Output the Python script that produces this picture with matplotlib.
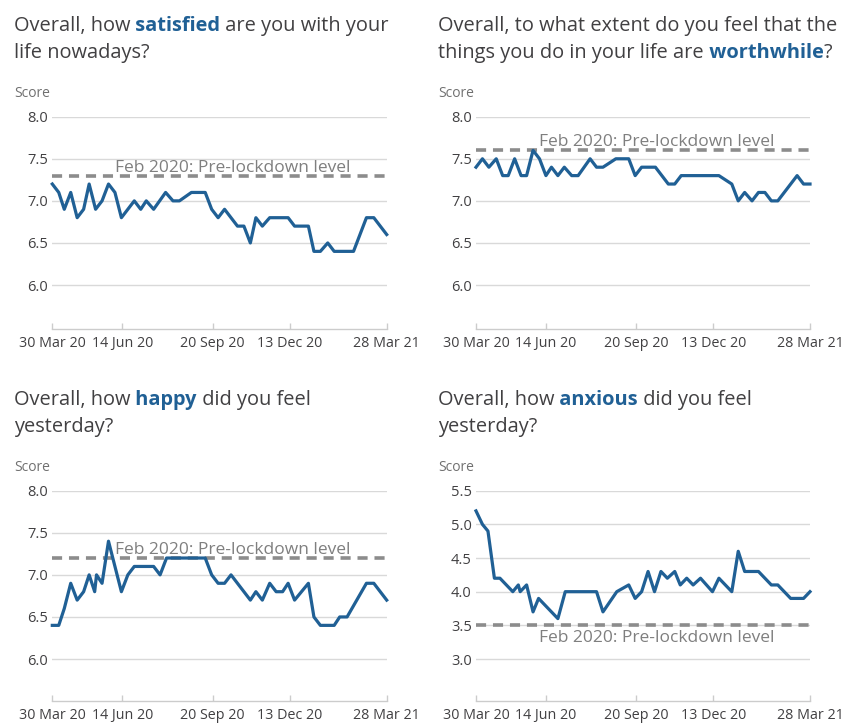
import matplotlib
matplotlib.use('Agg')
import matplotlib.pyplot as plt
import matplotlib.transforms as mtransforms
import pandas as pd

plt.rcParams['font.family'] = ['Open Sans', 'DejaVu Sans']

BLUE = '#206095'
TEXT = '#414042'
GREY = '#8c8c8c'
W, H = 845, 723

start = pd.Timestamp('2020-03-30')

# days after 30 Mar 2020 (end of survey period) and mean score
sat_days = [0, 7, 13, 20, 27, 34, 40, 47, 54, 61, 68, 75, 82, 89, 96, 102, 110, 123, 131, 138,
            151, 166, 173, 180, 187, 201, 208, 215, 221, 228, 236, 256, 263, 278, 284, 291, 299, 306, 327, 341,
            349, 363]
sat_vals = [7.2, 7.1, 6.9, 7.1, 6.8, 6.9, 7.2, 6.9, 7.0, 7.2, 7.1, 6.8, 6.9, 7.0, 6.9, 7.0, 6.9, 7.1, 7.0, 7.0,
            7.1, 7.1, 6.9, 6.8, 6.9, 6.7, 6.7, 6.5, 6.8, 6.7, 6.8, 6.8, 6.7, 6.7, 6.4, 6.4, 6.5, 6.4, 6.4, 6.8,
            6.8, 6.6]

worth_days = [0, 7, 14, 22, 29, 35, 42, 49, 55, 62, 69, 76, 82, 89, 96, 104, 111, 124, 131, 138,
              152, 166, 173, 180, 195, 209, 216, 223, 264, 278, 285, 292, 300, 307, 314, 321, 328, 349, 356, 363]
worth_vals = [7.4, 7.5, 7.4, 7.5, 7.3, 7.3, 7.5, 7.3, 7.3, 7.6, 7.5, 7.3, 7.4, 7.3, 7.4, 7.3, 7.3, 7.5, 7.4, 7.4,
              7.5, 7.5, 7.3, 7.4, 7.4, 7.2, 7.2, 7.3, 7.3, 7.2, 7.0, 7.1, 7.0, 7.1, 7.1, 7.0, 7.0, 7.3, 7.2, 7.2]

happy_days = [0, 7, 13, 20, 27, 34, 40, 46, 48, 54, 61, 75, 82, 89, 110, 117, 124, 166, 173, 180,
              187, 194, 215, 221, 228, 236, 243, 250, 256, 263, 278, 284, 291, 306, 312, 320, 341, 349, 363]
happy_vals = [6.4, 6.4, 6.6, 6.9, 6.7, 6.8, 7.0, 6.8, 7.0, 6.9, 7.4, 6.8, 7.0, 7.1, 7.1, 7.0, 7.2, 7.2, 7.0, 6.9,
              6.9, 7.0, 6.7, 6.8, 6.7, 6.9, 6.8, 6.8, 6.9, 6.7, 6.9, 6.5, 6.4, 6.4, 6.5, 6.5, 6.9, 6.9, 6.7]

anx_days = [0, 7, 13, 20, 26, 40, 46, 48, 55, 62, 68, 89, 97, 131, 138, 153, 166, 173, 180, 187,
            194, 201, 208, 216, 222, 229, 236, 244, 257, 264, 278, 285, 292, 307, 321, 328, 342, 356, 363]
anx_vals = [5.2, 5.0, 4.9, 4.2, 4.2, 4.0, 4.1, 4.0, 4.1, 3.7, 3.9, 3.6, 4.0, 4.0, 3.7, 4.0, 4.1, 3.9, 4.0, 4.3,
            4.0, 4.3, 4.2, 4.3, 4.1, 4.2, 4.1, 4.2, 4.0, 4.2, 4.0, 4.6, 4.3, 4.3, 4.1, 4.1, 3.9, 3.9, 4.0]

pre_lockdown = [7.3, 7.6, 7.2, 3.5]
pre_label = 'Feb 2020: Pre-lockdown level'

tick_dates = ['2020-03-30', '2020-06-14', '2020-09-20', '2020-12-13', '2021-03-28']
tick_labels = ['30 Mar 20', '14 Jun 20', '20 Sep 20', '13 Dec 20', '28 Mar 21']

titles = [
    [[('Overall, how', False), (' satisfied', True), (' are you with your', False)],
     [('life nowadays?', False)]],
    [[('Overall, to what extent do you feel that the', False)],
     [('things you do in your life are', False), (' worthwhile', True), ('?', False)]],
    [[('Overall, how', False), (' happy', True), (' did you feel', False)],
     [('yesterday?', False)]],
    [[('Overall, how', False), (' anxious', True), (' did you feel', False)],
     [('yesterday?', False)]],
]

series = [(sat_days, sat_vals), (worth_days, worth_vals), (happy_days, happy_vals), (anx_days, anx_vals)]
yticks = [[6.0, 6.5, 7.0, 7.5, 8.0]] * 3 + [[3.0, 3.5, 4.0, 4.5, 5.0, 5.5]]
ylims = [(5.474, 8.0)] * 3 + [(2.342, 5.5)]
label_below = [False, False, False, True]

# panel geometry in pixels: left, top (top gridline), width, height, title x, title baseline y
panels = [(52.3, 116.7, 334.4, 212.6, 14, 31),
          (476.0, 116.7, 334.0, 212.6, 438, 31),
          (52.3, 490.7, 334.4, 210.6, 14, 405),
          (476.0, 490.7, 334.0, 210.6, 438, 405)]

fig = plt.figure(figsize=(W / 100, H / 100), dpi=100)

for i in range(4):
    l, t, w, h, tx, ty = panels[i]
    ax = fig.add_axes([l / W, 1 - (t + h) / H, w / W, h / H])
    days, vals = series[i]
    dates = [start + pd.Timedelta(days=d) for d in days]
    ax.plot(dates, vals, color=BLUE, lw=2.3, solid_joinstyle='round', zorder=3, clip_on=False)
    ax.axhline(pre_lockdown[i], color=GREY, lw=2.6, linestyle=(0, (2.8, 1.9)), zorder=2)
    trans = mtransforms.blended_transform_factory(ax.transAxes, ax.transData)
    if label_below[i]:
        ax.annotate(pre_label, xy=(0.19, pre_lockdown[i]), xycoords=trans,
                    xytext=(0, -3), textcoords='offset points', ha='left', va='top',
                    fontsize=12.5, color='#7f7f7f')
    else:
        ax.annotate(pre_label, xy=(0.1875, pre_lockdown[i]), xycoords=trans,
                    xytext=(0, 2.8), textcoords='offset points', ha='left', va='baseline',
                    fontsize=12.5, color='#7f7f7f')

    # bottom row axes are a touch shorter, keep the same y scale
    ymin, ymax = ylims[i]
    ymin = ymax - (ymax - ymin) * h / 212.6
    ax.set_xlim(start, pd.Timestamp('2021-03-28'))
    ax.set_ylim(ymin, ymax)
    ax.set_yticks(yticks[i])
    ax.set_yticklabels(['%.1f' % v for v in yticks[i]])
    ax.set_xticks([pd.Timestamp(d) for d in tick_dates])
    ax.set_xticklabels(tick_labels)
    ax.grid(axis='y', color='#d9d9d9', lw=1.0)
    ax.set_axisbelow(True)
    for s in ['top', 'right', 'left']:
        ax.spines[s].set_visible(False)
    ax.spines['bottom'].set_color('#cccccc')
    ax.spines['bottom'].set_linewidth(1.0)
    ax.tick_params(axis='y', length=0, pad=3, labelsize=10.5, labelcolor=TEXT)
    ax.tick_params(axis='x', direction='in', length=4.5, color='#cccccc', width=1.0,
                   pad=4.5, labelsize=10.3, labelcolor=TEXT)

    fig.text(tx / W, 1 - (ty + 66) / H, 'Score', fontsize=10, color='#707070',
             ha='left', va='baseline')

# titles with a highlighted word
for i in range(4):
    tx, ty = panels[i][4], panels[i][5]
    for k, parts in enumerate(titles[i]):
        y = ty + 27 * k
        prev = fig.text(tx / W, 1 - y / H, parts[0][0], ha='left', va='baseline',
                        fontsize=14.4, color=BLUE if parts[0][1] else TEXT,
                        fontweight='bold' if parts[0][1] else 'normal')
        for txt, bold in parts[1:]:
            prev = fig.axes[0].annotate(txt, xy=(1, 0), xycoords=prev, ha='left', va='bottom',
                                        fontsize=14.4, color=BLUE if bold else TEXT,
                                        fontweight='bold' if bold else 'normal',
                                        annotation_clip=False)

fig.savefig('out.png', dpi=100)
